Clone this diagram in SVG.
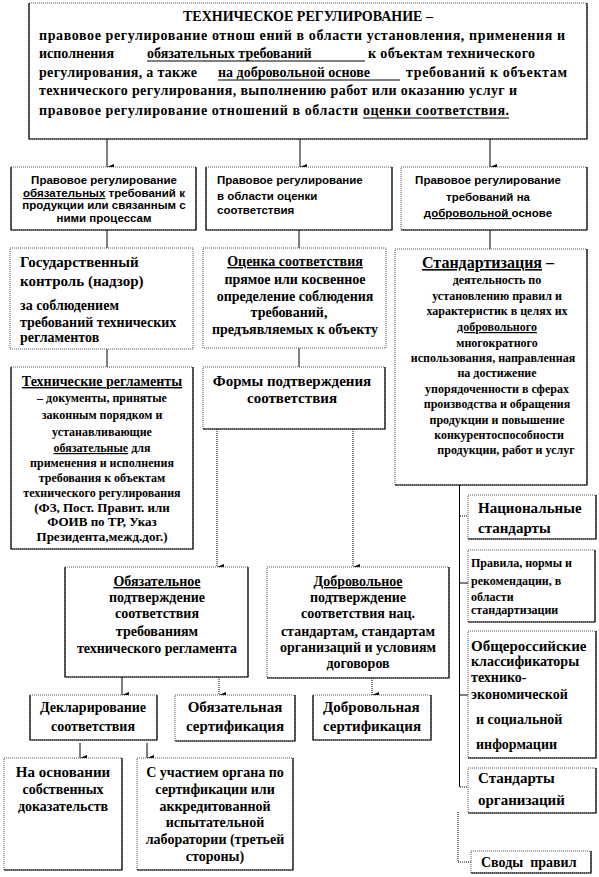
<svg xmlns="http://www.w3.org/2000/svg" width="599" height="877" viewBox="0 0 599 877">
<style>
text{font-family:"Liberation Serif","Times New Roman",serif;font-weight:bold;fill:#000}
.sans{font-family:"Liberation Sans",Arial,sans-serif;font-size:11.5px}
.f16{font-size:16px}.f15{font-size:15px}.f14{font-size:14px}.f13{font-size:13px}.f12{font-size:12px}
.c{text-anchor:middle}
.u{text-decoration:underline}
.box{fill:#fff;stroke:#555;stroke-width:1;stroke-dasharray:1 1}
.sh{fill:none;stroke:#000;stroke-width:1.2}
.ln{stroke:#000;stroke-width:1;fill:none}
.dt{stroke:#000;stroke-width:1;fill:none;stroke-dasharray:1 1}
.ul{stroke:#000;stroke-width:1}
</style>
<defs>
<marker id="ah" markerUnits="userSpaceOnUse" markerWidth="6" markerHeight="7" refX="3" refY="7" orient="auto-start-reverse" viewBox="0 0 6 7">
<path d="M0,0 L6,0 L3,7 Z" fill="#000"/>
</marker>
</defs>

<g id="connectors">
<line class="ln" x1="107" y1="139" x2="107" y2="167" marker-end="url(#ah)"/>
<line class="ln" x1="300" y1="139" x2="300" y2="167" marker-end="url(#ah)"/>
<line class="ln" x1="490" y1="139" x2="490" y2="167" marker-end="url(#ah)"/>
<line class="ln" x1="107" y1="230" x2="107" y2="248"/>
<line class="ln" x1="299" y1="230" x2="299" y2="248"/>
<line class="ln" x1="490" y1="230" x2="490" y2="249"/>
<line class="ln" x1="107" y1="349" x2="107" y2="367"/>
<line class="ln" x1="299" y1="348" x2="299" y2="367"/>
<line class="dt" x1="217" y1="429" x2="217" y2="567" marker-end="url(#ah)"/>
<line class="dt" x1="353" y1="429" x2="353" y2="567" marker-end="url(#ah)"/>
<line class="ln" x1="122" y1="677" x2="122" y2="695" marker-end="url(#ah)"/>
<line class="dt" x1="219" y1="677" x2="219" y2="695" marker-end="url(#ah)"/>
<line class="dt" x1="372" y1="678" x2="372" y2="695" marker-end="url(#ah)"/>
<line class="ln" x1="80" y1="743" x2="80" y2="758" marker-end="url(#ah)"/>
<line class="ln" x1="147" y1="743" x2="147" y2="758" marker-end="url(#ah)"/>
<line class="ln" x1="459.5" y1="485" x2="459.5" y2="787"/>
<line class="dt" x1="460" y1="516" x2="468" y2="516"/>
<line class="ln" x1="460" y1="583" x2="468" y2="583"/>
<line class="ln" x1="460" y1="695" x2="468" y2="695"/>
<line class="dt" x1="460" y1="787" x2="468" y2="787"/>
<polyline class="dt" points="458,812 458,862 471,862"/>
</g>

<g id="n-top">
<rect class="box" x="29" y="3" width="558" height="136"/>
<polyline class="sh" points="587,3 587,139 29,139 29,3"/>
<text class="f14 c" x="308" y="21">ТЕХНИЧЕСКОЕ РЕГУЛИРОВАНИЕ –</text>
<text class="f14" x="39" y="40" textLength="526" lengthAdjust="spacing">правовое регулирование отнош ений в области установления, применения и</text>
<text class="f14" x="39" y="58">исполнения</text>
<text class="f14" x="147" y="58">обязательных требований</text>
<line class="ul" x1="147" y1="61" x2="365" y2="61"/>
<text class="f14" x="368" y="58" textLength="167" lengthAdjust="spacing">к объектам технического</text>
<text class="f14" x="39" y="77" textLength="158" lengthAdjust="spacing">регулирования, а также</text>
<text class="f14" x="218" y="77">на добровольной основе</text>
<line class="ul" x1="218" y1="80" x2="400" y2="80"/>
<text class="f14" x="406" y="77" textLength="161" lengthAdjust="spacing">требований к объектам</text>
<text class="f14" x="39" y="95" textLength="478" lengthAdjust="spacing">технического регулирования, выполнению работ или оказанию услуг и</text>
<text class="f14" x="39" y="115" textLength="319" lengthAdjust="spacing">правовое регулирование отношений в области</text>
<text class="f14" x="363" y="115" textLength="146" lengthAdjust="spacing">оценки соответствия.</text>
<line class="ul" x1="363" y1="118" x2="509" y2="118"/>
</g>

<g id="n-legal-mandatory">
<rect class="box" x="11" y="167" width="185" height="63"/>
<polyline class="sh" points="196,167 196,230 11,230 11,167"/>
<text class="sans c" x="104" y="184">Правовое регулирование</text>
<text class="sans c" x="104" y="197"><tspan class="u">обязательных</tspan> требований к</text>
<text class="sans c" x="104" y="209">продукции или связанным с</text>
<text class="sans c" x="104" y="222">ними процессам</text>
</g>

<g id="n-legal-conformity">
<rect class="box" x="206" y="167" width="186" height="63"/>
<polyline class="sh" points="392,167 392,230 206,230 206,167"/>
<text class="sans" x="217" y="184">Правовое регулирование</text>
<text class="sans" x="217" y="200">в области оценки</text>
<text class="sans" x="217" y="214">соответствия</text>
</g>

<g id="n-legal-voluntary">
<rect class="box" x="401" y="167" width="186" height="63"/>
<polyline class="sh" points="587,167 587,230 401,230"/>
<text class="sans c" x="488" y="184">Правовое регулирование</text>
<text class="sans c" x="488" y="201">требований на</text>
<text class="sans c" x="488" y="217"><tspan class="u">добровольной </tspan> основе</text>
</g>

<g id="n-state-control">
<rect class="box" x="10" y="248" width="183" height="101"/>
<text class="f15" x="20" y="267">Государственный</text>
<text class="f15" x="20" y="286">контроль  (надзор)</text>
<text class="f14" x="20" y="310">за соблюдением</text>
<text class="f14" x="20" y="327">требований технических</text>
<text class="f14" x="20" y="342">регламентов</text>
</g>

<g id="n-conformity-assessment">
<rect class="box" x="203" y="248" width="183" height="100"/>
<text class="f14 c" x="295" y="266"><tspan class="u">Оценка соответствия</tspan></text>
<text class="f14 c" x="295" y="284">прямое или косвенное</text>
<text class="f14 c" x="295" y="301">определение соблюдения</text>
<text class="f14 c" x="289" y="317">требований,</text>
<text class="f14 c" x="295" y="334">предъявляемых к объекту</text>
</g>

<g id="n-tech-regs">
<rect class="box" x="11" y="367" width="182" height="182"/>
<polyline class="sh" points="193,367 193,549 11,549 11,367"/>
<text class="f14 c" x="102" y="386"><tspan class="u">Технические регламенты</tspan></text>
<text class="f12 c" x="102" y="402">– документы, принятые</text>
<text class="f12 c" x="102" y="419">законным порядком и</text>
<text class="f12 c" x="102" y="436">устанавливающие</text>
<text class="f12 c" x="102" y="452"><tspan class="u">обязательные</tspan> для</text>
<text class="f12 c" x="102" y="467">применения и исполнения</text>
<text class="f12 c" x="102" y="482">требования к объектам</text>
<text class="f12 c" x="102" y="497">технического регулирования</text>
<text class="f13 c" x="102" y="512">(ФЗ, Пост. Правит. или</text>
<text class="f13 c" x="102" y="526">ФОИВ по ТР, Указ</text>
<text class="f13 c" x="102" y="541">Президента,межд.дог.)</text>
</g>

<g id="n-forms">
<rect class="box" x="203" y="367" width="182" height="62"/>
<polyline class="sh" points="385,367 385,429 203,429"/>
<text class="f15 c" x="292" y="386">Формы подтверждения</text>
<text class="f15 c" x="292" y="403">соответствия</text>
</g>

<g id="n-standardization">
<rect class="box" x="395" y="249" width="192" height="236"/>
<polyline class="sh" points="587,249 587,485 395,485"/>
<text class="f16 c" x="488" y="268"><tspan class="u">Стандартизация</tspan> –</text>
<text class="f12 c" x="497" y="284">деятельность по</text>
<text class="f12 c" x="497" y="300">установлению правил и</text>
<text class="f12 c" x="497" y="315">характеристик в целях их</text>
<text class="f12 c" x="497" y="331"><tspan class="u">добровольного</tspan></text>
<text class="f12 c" x="497" y="347">многократного</text>
<text class="f12 c" x="493" y="362">использования, направленная</text>
<text class="f12 c" x="497" y="377">на достижение</text>
<text class="f12 c" x="497" y="393">упорядоченности в сферах</text>
<text class="f12 c" x="497" y="408">производства и обращения</text>
<text class="f12 c" x="497" y="424">продукции и повышение</text>
<text class="f12 c" x="499" y="439">конкурентоспособности</text>
<text class="f12 c" x="506" y="454">продукции, работ и услуг</text>
</g>

<g id="n-national">
<rect class="box" x="468" y="495" width="128" height="44"/>
<polyline class="sh" points="596,495 596,539 468,539"/>
<text class="f15" x="478" y="513">Национальные</text>
<text class="f15" x="478" y="533">стандарты</text>
</g>

<g id="n-rules">
<rect class="box" x="468" y="550" width="127" height="72"/>
<polyline class="sh" points="595,550 595,622 468,622"/>
<text class="f12" x="471" y="567">Правила, нормы и</text>
<text class="f12" x="471" y="585">рекомендации, в</text>
<text class="f12" x="471" y="601">области</text>
<text class="f12" x="471" y="614">стандартизации</text>
</g>

<g id="n-classifiers">
<rect class="box" x="468" y="631" width="128" height="127"/>
<polyline class="sh" points="596,631 596,758 468,758"/>
<text class="f15" x="471" y="651">Общероссийские</text>
<text class="f14" x="471" y="666">классификаторы</text>
<text class="f14" x="471" y="682">технико-</text>
<text class="f14" x="471" y="699">экономической</text>
<text class="f14" x="476" y="724">и социальной</text>
<text class="f14" x="476" y="749">информации</text>
</g>

<g id="n-org-standards">
<rect class="box" x="468" y="768" width="128" height="45"/>
<polyline class="sh" points="596,768 596,813 468,813"/>
<text class="f15" x="478" y="783">Стандарты</text>
<text class="f15" x="478" y="805">организаций</text>
</g>

<g id="n-codes">
<rect class="box" x="471" y="851" width="120" height="22"/>
<polyline class="sh" points="591,851 591,873 471,873"/>
<text class="f14" x="481" y="867" xml:space="preserve">Своды  правил</text>
</g>

<g id="n-mandatory-confirmation">
<rect class="box" x="65" y="567" width="183" height="110"/>
<polyline class="sh" points="248,567 248,677 65,677 65,567"/>
<text class="f14 c" x="157" y="586"><tspan class="u">Обязательное</tspan></text>
<text class="f14 c" x="157" y="602">подтверждение</text>
<text class="f14 c" x="157" y="618">соответствия</text>
<text class="f14 c" x="157" y="636">требованиям</text>
<text class="f14 c" x="157" y="653">технического регламента</text>
</g>

<g id="n-voluntary-confirmation">
<rect class="box" x="267" y="567" width="182" height="111"/>
<polyline class="sh" points="449,567 449,678 267,678"/>
<text class="f14 c" x="358" y="586"><tspan class="u">Добровольное</tspan></text>
<text class="f14 c" x="358" y="602">подтверждение</text>
<text class="f14 c" x="358" y="618">соответствия нац.</text>
<text class="f14 c" x="358" y="636">стандартам, стандартам</text>
<text class="f14 c" x="358" y="652">организаций и условиям</text>
<text class="f14 c" x="358" y="668">договоров</text>
</g>

<g id="n-declaration">
<rect class="box" x="30" y="695" width="127" height="45"/>
<polyline class="sh" points="157,695 157,740 30,740 30,695"/>
<text class="f14 c" x="93" y="712">Декларирование</text>
<text class="f14 c" x="93" y="731">соответствия</text>
</g>

<g id="n-mandatory-cert">
<rect class="box" x="175" y="695" width="120" height="46"/>
<polyline class="sh" points="295,695 295,741 175,741"/>
<text class="f15 c" x="235" y="712">Обязательная</text>
<text class="f15 c" x="235" y="731">сертификация</text>
</g>

<g id="n-voluntary-cert">
<rect class="box" x="313" y="695" width="118" height="45"/>
<polyline class="sh" points="431,695 431,740 313,740 313,695"/>
<text class="f15" x="323" y="712">Добровольная</text>
<text class="f15" x="323" y="731">сертификация</text>
</g>

<g id="n-own-evidence">
<rect class="box" x="4" y="758" width="118" height="112"/>
<polyline class="sh" points="122,758 122,870 4,870"/>
<text class="f15 c" x="63" y="777">На основании</text>
<text class="f14 c" x="63" y="794">собственных</text>
<text class="f14 c" x="63" y="811">доказательств</text>
</g>

<g id="n-third-party">
<rect class="box" x="137" y="758" width="156" height="112"/>
<polyline class="sh" points="293,758 293,870 137,870"/>
<text class="f14 c" x="215" y="777">С участием органа по</text>
<text class="f14 c" x="215" y="794">сертификации или</text>
<text class="f14 c" x="215" y="811">аккредитованной</text>
<text class="f14 c" x="215" y="827">испытательной</text>
<text class="f14 c" x="215" y="844">лаборатории (третьей</text>
<text class="f14 c" x="215" y="861">стороны)</text>
</g>
</svg>
